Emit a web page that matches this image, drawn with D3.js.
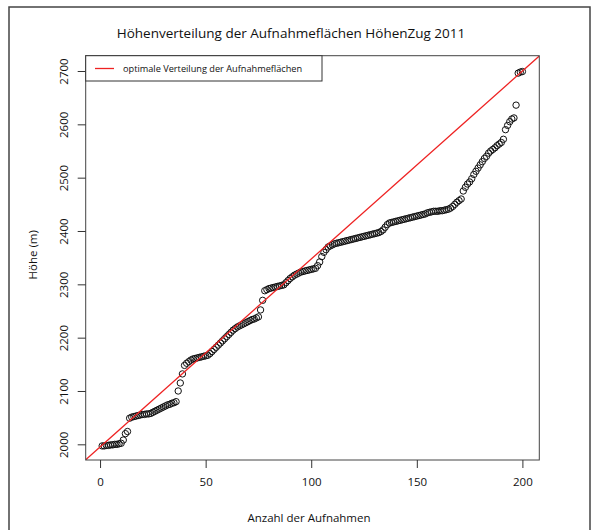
<!DOCTYPE html>
<html><head><meta charset="utf-8">
<script src="https://cdn.jsdelivr.net/npm/d3@7"></script>
<style>
body{margin:0;background:#fff}
svg{display:block}
text{font-family:"Open Sans",sans-serif;fill:#111}
</style></head>
<body><svg id="c" width="598" height="530"></svg>
<script>
const titleText = "Höhenverteilung der Aufnahmeflächen HöhenZug 2011";
const xLabel = "Anzahl der Aufnahmen";
const yLabel = "Höhe (m)";
const legendLabel = "optimale Verteilung der Aufnahmeflächen";
const xTicks = [0, 50, 100, 150, 200];
const yTicks = [2000, 2100, 2200, 2300, 2400, 2500, 2600, 2700];
const xDomain = [-6.8, 208];
const yDomain = [1970.6, 2728.7];
// sorted elevations of the 200 plots
const elevations = [
  1997,1997,1998,1998,1999,1999,2000,2000,2001,2002,
  2008,2020,2024,
  2049,2051,2052,2053,2054,2055,2056,2056,2057,2057,2058,2060,2062,2064,2066,2068,2070,2072,2074,2075,2077,2078,2080,
  2100,2115,2132,2148,
  2152,2155,2158,2160,2161,2162,2163,2164,2165,2166,2167,
  2170,2174,2178,2182,2186,2190,2194,2198,2202,2206,2210,2214,
  2217,2220,2222,2224,2226,2228,2230,2232,2234,2235,2237,2239,
  2252,2270,2288,
  2290,2292,2293,2294,2295,2296,2297,2298,2299,
  2303,2307,2311,2314,2317,2319,2321,2323,
  2324,2325,2326,2327,2328,2329,2330,
  2335,2342,2352,2360,2365,2370,
  2372,2374,2376,2377,2378,2379,2380,2381,2382,2383,2384,2385,2386,2387,2388,2389,2390,2391,2392,2393,2394,2395,2396,2397,2399,
  2402,2407,2412,2415,2416,2417,2418,2419,2420,2421,2422,2423,2424,2425,2426,2427,2428,2429,2430,2431,2432,2434,2435,2436,2437,2437,2437,2438,2438,2439,2440,2441,
  2443,2446,2450,2454,2457,2460,2475,2482,2488,2492,2498,2506,2512,2518,2524,2530,2536,2540,2546,2550,2553,2556,2560,2563,2566,2572,2590,2598,2605,2610,2612,2636,2696,2698,2699
];
const optimalX = [0, 200];
const optimalY = [1995, 2700];

const svg = d3.select("#c");
const L = 85.7, R = 539.3, T = 55.7, B = 460;
const x = d3.scaleLinear().domain(xDomain).range([L, R]);
const y = d3.scaleLinear().domain(yDomain).range([B, T]);

// outer frame
svg.append("rect").attr("x", 9).attr("y", 7).attr("width", 581).attr("height", 540)
  .attr("fill", "none").attr("stroke", "#444").attr("stroke-width", 1.5);

// title
svg.append("text").attr("x", 291).attr("y", 38).attr("text-anchor", "middle")
  .attr("font-size", 13.5).text(titleText);

// clip
svg.append("clipPath").attr("id", "clip").append("rect")
  .attr("x", L).attr("y", T).attr("width", R - L).attr("height", B - T);

// points
const pts = elevations.map((v, i) => ({ n: i + 1, v }));
svg.append("g").selectAll("circle").data(pts).join("circle")
  .attr("cx", d => x(d.n)).attr("cy", d => y(d.v)).attr("r", 3.2)
  .attr("fill", "none").attr("stroke", "#111").attr("stroke-width", 1);

// optimal line
const slope = (optimalY[1] - optimalY[0]) / (optimalX[1] - optimalX[0]);
const lineY = xv => optimalY[0] + slope * (xv - optimalX[0]);
svg.append("line").attr("clip-path", "url(#clip)")
  .attr("x1", x(xDomain[0])).attr("y1", y(lineY(xDomain[0])))
  .attr("x2", x(xDomain[1])).attr("y2", y(lineY(xDomain[1])))
  .attr("stroke", "#ee2222").attr("stroke-width", 1.3);

// plot box
svg.append("rect").attr("x", L).attr("y", T).attr("width", R - L).attr("height", B - T)
  .attr("fill", "none").attr("stroke", "#444").attr("stroke-width", 1);

// x axis
const xa = svg.append("g").attr("transform", `translate(0,${B})`)
  .call(d3.axisBottom(x).tickValues(xTicks).tickSize(8).tickPadding(10).tickFormat(d3.format("d")));
xa.select(".domain").remove();
xa.selectAll("line").attr("stroke", "#333");
xa.selectAll("text").attr("font-size", 11.5).attr("font-family", "Open Sans").attr("fill", "#111");

// y axis
const ya = svg.append("g").attr("transform", `translate(${L},0)`)
  .call(d3.axisLeft(y).tickValues(yTicks).tickSize(8).tickFormat(d3.format("d")));
ya.select(".domain").remove();
ya.selectAll("line").attr("stroke", "#333");
ya.selectAll("text").attr("font-size", 11.5).attr("font-family", "Open Sans").attr("fill", "#111")
  .attr("text-anchor", "middle").attr("dy", null).attr("dominant-baseline", "central")
  .attr("x", null)
  .attr("transform", "translate(-22,0) rotate(-90)");

// axis labels
svg.append("text").attr("x", 309).attr("y", 522).attr("text-anchor", "middle")
  .attr("font-size", 11.5).text(xLabel);
svg.append("text").attr("transform", `translate(32,${(T + B) / 2 - 3}) rotate(-90)`)
  .attr("text-anchor", "middle").attr("dominant-baseline", "central")
  .attr("font-size", 11.5).text(yLabel);

// legend
const lg = svg.append("g");
lg.append("rect").attr("x", L).attr("y", T).attr("width", 322 - L).attr("height", 81 - T)
  .attr("fill", "#fff").attr("stroke", "#333").attr("stroke-width", 1);
lg.append("line").attr("x1", 95).attr("x2", 114).attr("y1", 68.5).attr("y2", 68.5)
  .attr("stroke", "#ee2222").attr("stroke-width", 1.3);
lg.append("text").attr("x", 123).attr("y", 68.5).attr("dominant-baseline", "central")
  .attr("font-size", 9.2).text(legendLabel);
</script>
</body></html>
